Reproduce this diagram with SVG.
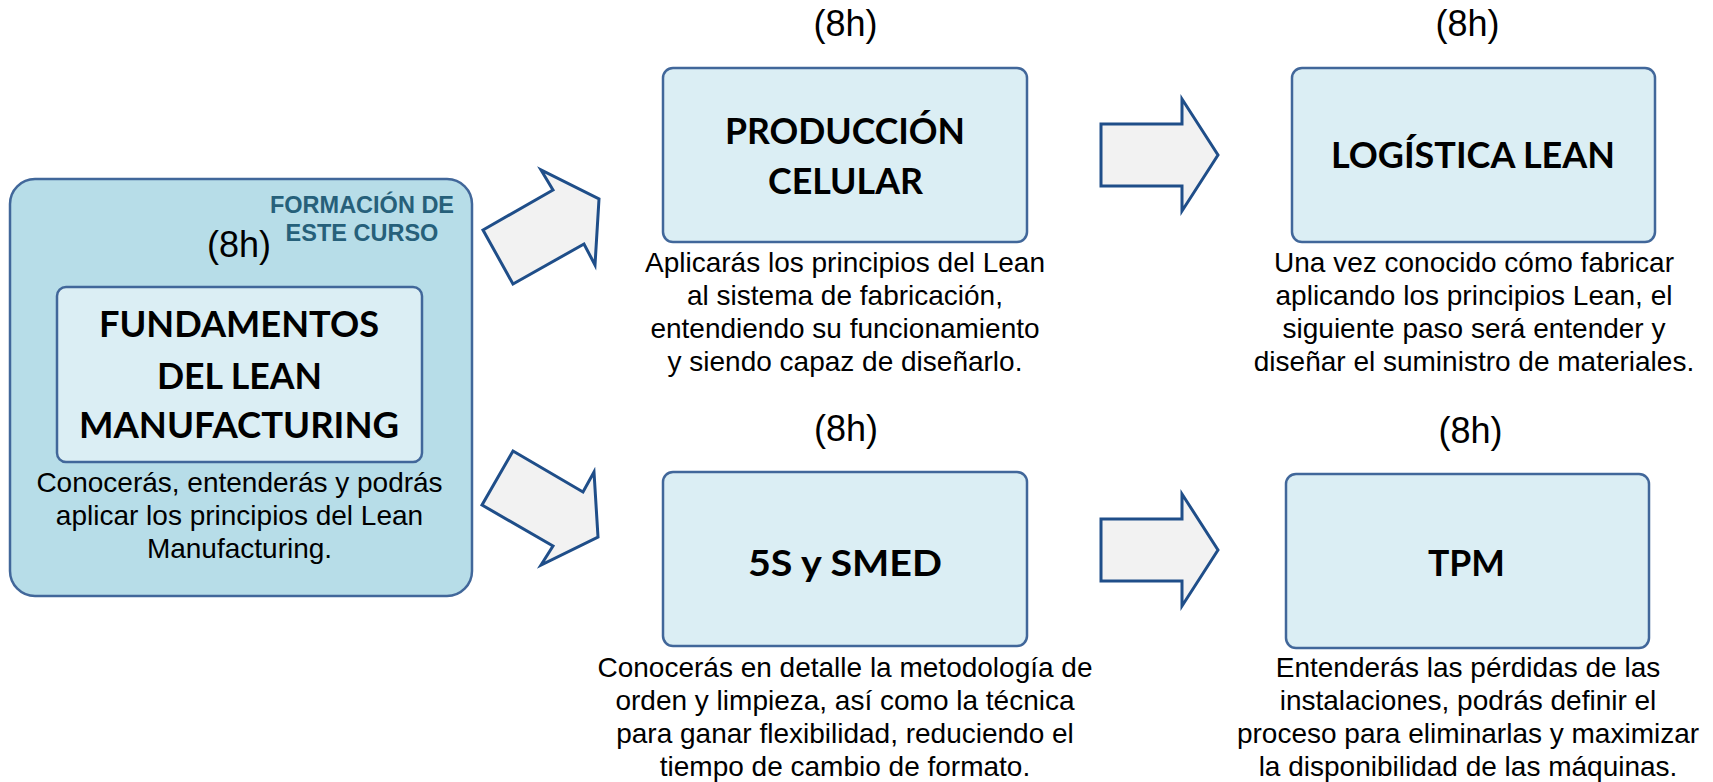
<svg xmlns="http://www.w3.org/2000/svg" width="1713" height="782" viewBox="0 0 1713 782">
<style>
  .outer { fill: #b7dde8; stroke: #41679a; stroke-width: 2.5; }
  .box { fill: #dbeef4; stroke: #41679a; stroke-width: 2.5; }
  .arrow { fill: #f2f2f2; stroke: #1f4e89; stroke-width: 3; stroke-linejoin: miter; }
  .title { font-family: Lato, "Open Sans", "DejaVu Sans", sans-serif; font-weight: 700; font-size: 37px; fill: #000; text-anchor: middle; }
  .desc { font-family: "Liberation Sans", Arial, sans-serif; font-size: 28px; fill: #000; text-anchor: middle; }
  .hrs { font-family: "Liberation Sans", Arial, sans-serif; font-size: 36px; fill: #000; text-anchor: middle; }
  .tag { font-family: "Liberation Sans", Arial, sans-serif; font-weight: 700; font-size: 23.5px; fill: #26607a; text-anchor: middle; }
</style>

<g id="fundamentos">
  <rect class="outer" x="10" y="179" width="462" height="417" rx="25"/>
  <text class="tag" x="362" y="213">FORMACIÓN DE</text>
  <text class="tag" x="362" y="241">ESTE CURSO</text>
  <text class="hrs" x="239" y="257">(8h)</text>
  <rect class="box" x="57" y="287" width="365" height="175" rx="9"/>
  <text class="title" x="239" y="337" textLength="280" lengthAdjust="spacingAndGlyphs">FUNDAMENTOS</text>
  <text class="title" x="239.5" y="389" textLength="165" lengthAdjust="spacingAndGlyphs">DEL LEAN</text>
  <text class="title" x="239" y="438" textLength="320" lengthAdjust="spacingAndGlyphs">MANUFACTURING</text>
  <text class="desc" x="239.5" y="492">Conocerás, entenderás y podrás</text>
  <text class="desc" x="239.5" y="525">aplicar los principios del Lean</text>
  <text class="desc" x="239.5" y="558">Manufacturing.</text>
</g>

<g id="produccion">
  <text class="hrs" x="845.5" y="36">(8h)</text>
  <rect class="box" x="663" y="68" width="364" height="174" rx="10"/>
  <text class="title" x="845" y="144" textLength="240" lengthAdjust="spacingAndGlyphs">PRODUCCIÓN</text>
  <text class="title" x="845.5" y="194" textLength="155" lengthAdjust="spacingAndGlyphs">CELULAR</text>
  <text class="desc" x="845" y="272">Aplicarás los principios del Lean</text>
  <text class="desc" x="845" y="305">al sistema de fabricación,</text>
  <text class="desc" x="845" y="338">entendiendo su funcionamiento</text>
  <text class="desc" x="845" y="371">y siendo capaz de diseñarlo.</text>
</g>

<g id="logistica">
  <text class="hrs" x="1467.5" y="36">(8h)</text>
  <rect class="box" x="1292" y="68" width="363" height="174" rx="10"/>
  <text class="title" x="1473" y="168" textLength="284" lengthAdjust="spacingAndGlyphs">LOGÍSTICA LEAN</text>
  <text class="desc" x="1474" y="272">Una vez conocido cómo fabricar</text>
  <text class="desc" x="1474" y="305">aplicando los principios Lean, el</text>
  <text class="desc" x="1474" y="338">siguiente paso será entender y</text>
  <text class="desc" x="1474" y="371">diseñar el suministro de materiales.</text>
</g>

<g id="smed">
  <text class="hrs" x="846" y="441">(8h)</text>
  <rect class="box" x="663" y="472" width="364" height="174" rx="10"/>
  <text class="title" x="845" y="576" textLength="194" lengthAdjust="spacingAndGlyphs">5S y SMED</text>
  <text class="desc" x="845" y="677">Conocerás en detalle la metodología de</text>
  <text class="desc" x="845" y="710">orden y limpieza, así como la técnica</text>
  <text class="desc" x="845" y="743">para ganar flexibilidad, reduciendo el</text>
  <text class="desc" x="845" y="776">tiempo de cambio de formato.</text>
</g>

<g id="tpm">
  <text class="hrs" x="1470.5" y="443">(8h)</text>
  <rect class="box" x="1286" y="474" width="363" height="174" rx="10"/>
  <text class="title" x="1466.5" y="576" textLength="77" lengthAdjust="spacingAndGlyphs">TPM</text>
  <text class="desc" x="1468" y="677">Entenderás las pérdidas de las</text>
  <text class="desc" x="1468" y="710">instalaciones, podrás definir el</text>
  <text class="desc" x="1468" y="743">proceso para eliminarlas y maximizar</text>
  <text class="desc" x="1468" y="776">la disponibilidad de las máquinas.</text>
</g>

<g id="connectors">
  <polygon class="arrow" points="513,284 483,230 553,190 541,170 599,199 595,265 584,244"/>
  <polygon class="arrow" points="513,451 583,492 594,472 598,537 541,565 553,546 482,505"/>
  <polygon class="arrow" points="1101,124 1182,124 1182,99 1218,155 1182,211 1182,186 1101,186"/>
  <polygon class="arrow" points="1101,519 1182,519 1182,494 1218,550 1182,606 1182,581 1101,581"/>
</g>
</svg>
